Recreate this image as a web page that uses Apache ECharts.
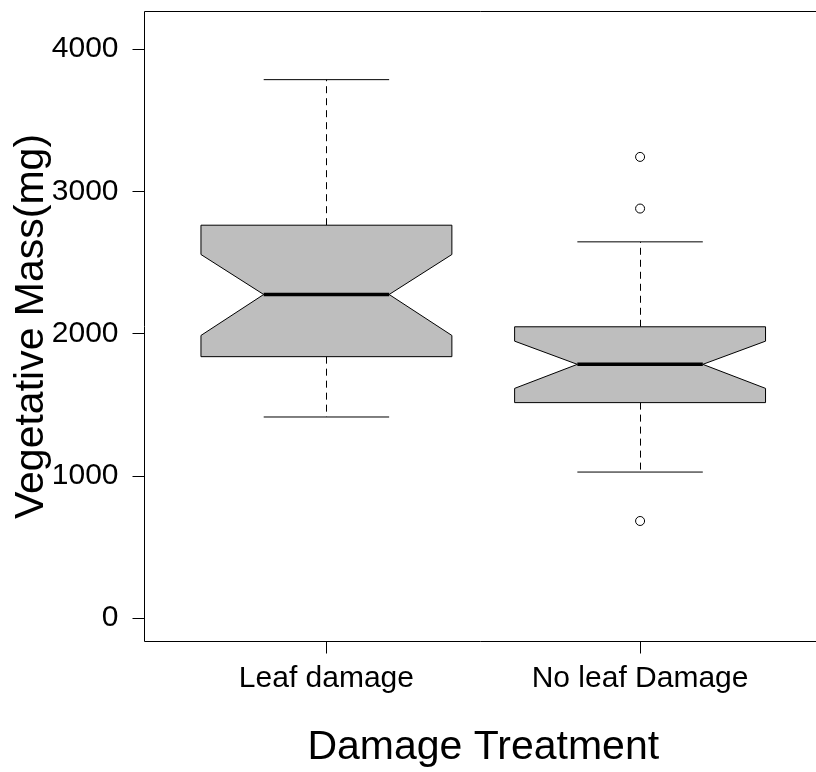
<!DOCTYPE html>
<html>
<head>
<meta charset="utf-8">
<script src="https://cdn.jsdelivr.net/npm/echarts@6/dist/echarts.min.js"></script>
<style>
html,body{margin:0;padding:0;background:#fff;}
#chart{width:816px;height:772px;}
</style>
</head>
<body>
<div id="chart"></div>
<script>
// Data
var categories = ['Leaf damage', 'No leaf Damage'];
var whiskerLow = [1414, 1027];
var q1 = [1838, 1515];
var notchLow = [1987, 1615];
var median = [2275, 1784];
var notchHigh = [2556, 1947];
var q3 = [2762, 2048];
var whiskerHigh = [3785, 2645];
var outlierGroup = [2, 2, 2];
var outlierValues = [3242, 2879, 683];
var yTicks = [0, 1000, 2000, 3000, 4000];

var FONT = 'Liberation Sans, Arial, Helvetica, sans-serif';

var boxData = categories.map(function (c, i) {
  return [i + 1, whiskerLow[i], q1[i], notchLow[i], median[i], notchHigh[i], q3[i], whiskerHigh[i]];
});
var outlierData = outlierValues.map(function (v, i) { return [outlierGroup[i], v]; });

function renderBox(params, api) {
  var x = api.value(0);
  var wlo = api.value(1), b1 = api.value(2), nlo = api.value(3), med = api.value(4),
      nhi = api.value(5), b3 = api.value(6), whi = api.value(7);
  var hw = 0.4, nw = 0.2, sw = 0.2;
  function c(dx, v) { return api.coord([x + dx, v]); }
  var poly = [c(-hw, b3), c(hw, b3), c(hw, nhi), c(nw, med), c(hw, nlo), c(hw, b1),
              c(-hw, b1), c(-hw, nlo), c(-nw, med), c(-hw, nhi)];
  var dash = [7, 5];
  var cx = Math.round(c(0, b3)[0]) + 0.5;
  return {
    type: 'group',
    children: [
      { type: 'line', shape: { x1: cx, y1: c(0, b3)[1], x2: cx, y2: c(0, whi)[1] },
        style: { stroke: '#000', lineWidth: 1, lineDash: dash } },
      { type: 'line', shape: { x1: cx, y1: c(0, b1)[1], x2: cx, y2: c(0, wlo)[1] },
        style: { stroke: '#000', lineWidth: 1, lineDash: dash } },
      { type: 'line', shape: { x1: c(-sw, whi)[0], y1: c(-sw, whi)[1], x2: c(sw, whi)[0], y2: c(sw, whi)[1] },
        style: { stroke: '#000', lineWidth: 1 } },
      { type: 'line', shape: { x1: c(-sw, wlo)[0], y1: c(-sw, wlo)[1], x2: c(sw, wlo)[0], y2: c(sw, wlo)[1] },
        style: { stroke: '#000', lineWidth: 1 } },
      { type: 'polygon', shape: { points: poly },
        style: { fill: '#bebebe', stroke: '#000', lineWidth: 1 } },
      { type: 'line', shape: { x1: c(-nw, med)[0], y1: c(-nw, med)[1], x2: c(nw, med)[0], y2: c(nw, med)[1] },
        style: { stroke: '#000', lineWidth: 3.5 } }
    ]
  };
}

var chart = echarts.init(document.getElementById('chart'), null, { renderer: 'canvas' });
chart.setOption({
  animation: false,
  backgroundColor: '#fff',
  grid: {
    show: true, left: 144.5, top: 11.5, width: 677.5, height: 630,
    containLabel: false, outerBoundsMode: 'none',
    borderColor: '#000', borderWidth: 1, backgroundColor: 'transparent'
  },
  xAxis: {
    type: 'value', min: 0.42, max: 2.58,
    splitLine: { show: false },
    axisLine: { show: false, onZero: false },
    axisTick: { show: true, inside: false, length: 12, customValues: [1, 2], lineStyle: { color: '#000' } },
    axisLabel: {
      customValues: [1, 2], margin: 22, color: '#000', fontSize: 30, fontFamily: FONT,
      formatter: function (v) { return categories[Math.round(v) - 1]; }
    },
    name: 'Damage Treatment', nameLocation: 'middle', nameGap: 86, nameMoveOverlap: false,
    nameTextStyle: { color: '#000', fontSize: 41, fontFamily: FONT }
  },
  yAxis: {
    type: 'value', min: -164, max: 4264,
    splitLine: { show: false },
    axisLine: { show: false, onZero: false },
    axisTick: { show: true, inside: false, length: 12, customValues: yTicks, lineStyle: { color: '#000' } },
    axisLabel: {
      customValues: yTicks, margin: 26, color: '#000', fontSize: 30, fontFamily: FONT,
      formatter: function (v) { return String(v); }
    },
    name: 'Vegetative Mass(mg)', nameLocation: 'middle', nameGap: 92, nameMoveOverlap: false,
    nameTextStyle: { color: '#000', fontSize: 41, fontFamily: FONT }
  },
  series: [
    { type: 'custom', renderItem: renderBox, data: boxData, encode: { x: 0, y: [1, 2, 3, 4, 5, 6, 7] }, z: 2 },
    { type: 'scatter', data: outlierData, symbol: 'circle', symbolSize: 9,
      itemStyle: { color: '#fff', borderColor: '#000', borderWidth: 1, opacity: 1 }, z: 3 }
  ]
});
</script>
</body>
</html>
